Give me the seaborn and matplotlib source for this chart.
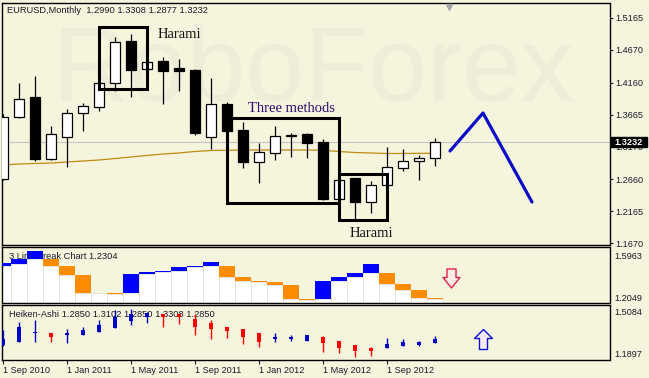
import numpy as np
import pandas as pd
import matplotlib
matplotlib.use("Agg")
import matplotlib.pyplot as plt
import seaborn as sns
from matplotlib.path import Path
from matplotlib.patches import Rectangle
from matplotlib.transforms import blended_transform_factory

# ---------------- data ----------------
months = ["Sep 2010", "Oct 2010", "Nov 2010", "Dec 2010", "Jan 2011", "Feb 2011", "Mar 2011",
          "Apr 2011", "May 2011", "Jun 2011", "Jul 2011", "Aug 2011", "Sep 2011", "Oct 2011",
          "Nov 2011", "Dec 2011", "Jan 2012", "Feb 2012", "Mar 2012", "Apr 2012", "May 2012",
          "Jun 2012", "Jul 2012", "Aug 2012", "Sep 2012", "Oct 2012", "Nov 2012", "Dec 2012"]

opens  = [1.2664, 1.3622, 1.3942, 1.2970, 1.3321, 1.3684, 1.3787, 1.4150, 1.4807, 1.4368,
          1.4496, 1.4383, 1.4357, 1.3321, 1.3829, 1.3425, 1.2928, 1.3068, 1.3332, 1.3363,
          1.3238, 1.2353, 1.2680, 1.2307, 1.2571, 1.2835, 1.2944, 1.2990]
highs  = [1.3673, 1.4160, 1.4263, 1.3487, 1.3751, 1.3840, 1.4150, 1.4874, 1.4920, 1.4476,
          1.4563, 1.4528, 1.4372, 1.4232, 1.3860, 1.3549, 1.3223, 1.3487, 1.3378, 1.3378,
          1.3285, 1.2648, 1.2680, 1.2633, 1.3161, 1.3130, 1.3037, 1.3301]
lows   = [1.2648, 1.3607, 1.2943, 1.2965, 1.2855, 1.3414, 1.3725, 1.4035, 1.3942, 1.4368,
          1.3824, 1.4035, 1.3347, 1.3130, 1.3409, 1.2835, 1.2602, 1.2959, 1.3000, 1.2990,
          1.2338, 1.2353, 1.2043, 1.2136, 1.2571, 1.2788, 1.2648, 1.2866]
closes = [1.3627, 1.3902, 1.2970, 1.3358, 1.3684, 1.3798, 1.4150, 1.4792, 1.4357, 1.4476,
          1.4346, 1.4346, 1.3383, 1.3824, 1.3409, 1.2928, 1.3083, 1.3332, 1.3340, 1.3223,
          1.2353, 1.2648, 1.2307, 1.2571, 1.2850, 1.2944, 1.2990, 1.3232]
ma_values = [1.2881, 1.2897, 1.2905, 1.2912, 1.2928, 1.2943, 1.2959, 1.2982, 1.3006, 1.3029,
             1.3052, 1.3068, 1.3091, 1.3107, 1.3110, 1.3114, 1.3114, 1.3114, 1.3114, 1.3114,
             1.3110, 1.3091, 1.3075, 1.3068, 1.3060, 1.3060, 1.3063, 1.3063]
current_price = 1.3232

forecast_x = [27.94, 30.0, 33.06]
forecast_y = [1.3099, 1.3689, 1.2307]

# pattern boxes: (label, x0, x1, low, high, label_x, label_y, color)
patterns = [("Harami", 6.0, 9.0, 1.4062, 1.5024, 11.03, 1.4908, "#111111"),
            ("Three methods", 14.0, 21.0, 1.2291, 1.3611, 18.03, 1.3751, "#2e0a6e"),
            ("Harami", 21.0, 24.0, 1.2027, 1.2742, 23.0, 1.1810, "#111111")]

main_ticks = [1.5165, 1.4670, 1.4160, 1.3665, 1.3170, 1.2660, 1.2165, 1.1670]

# 3 Line Break bricks
lb_open  = [1.4966, 1.5124, 1.5590, 1.5590, 1.4938, 1.4099, 1.2450, 1.2450, 1.2450, 1.4192,
            1.4379, 1.4472, 1.4845, 1.4966, 1.4966, 1.3913, 1.3540, 1.3447, 1.3167, 1.1863,
            1.1863, 1.3540, 1.3941, 1.4314, 1.4314, 1.3260, 1.2701, 1.1984]
lb_close = [1.5190, 1.5590, 1.6336, 1.4938, 1.4099, 1.2450, 1.2450, 1.2329, 1.4192, 1.4379,
            1.4472, 1.4845, 1.4966, 1.5311, 1.3913, 1.3540, 1.3447, 1.3167, 1.1863, 1.1769,
            1.3540, 1.3941, 1.4314, 1.5124, 1.3260, 1.2701, 1.1984, 1.1891]
lb_ticks = [1.5963, 1.2049]

# Heiken-Ashi
ha_open  = [1.2564, 1.2786, 1.3454, 1.3454, 1.3305, 1.3328, 1.3550, 1.3846, 1.4321, 1.4639,
            1.4862, 1.4862, 1.4491, 1.4217, 1.3876, 1.3728, 1.3454, 1.3009, 1.3031, 1.2883,
            1.3179, 1.2861, 1.2564, 1.2342, 1.2319, 1.2468, 1.2564, 1.2690]
ha_close = [1.3009, 1.3898, 1.3528, 1.3135, 1.3431, 1.3676, 1.4046, 1.4662, 1.4862, 1.4936,
            1.4617, 1.4617, 1.3920, 1.3728, 1.3624, 1.3135, 1.2809, 1.3179, 1.3179, 1.3328,
            1.2690, 1.2319, 1.2142, 1.2119, 1.2616, 1.2809, 1.2764, 1.3009]
ha_high  = [1.3676, 1.4269, 1.4417, 1.3454, 1.3750, 1.3898, 1.4417, 1.5158, 1.5232, 1.5032,
            1.4862, 1.4862, 1.4862, 1.4417, 1.3876, 1.3728, 1.3454, 1.3476, 1.3328, 1.3328,
            1.3231, 1.2861, 1.2564, 1.2394, 1.3105, 1.3009, 1.2883, 1.3253]
ha_low   = [1.2490, 1.2786, 1.2786, 1.2786, 1.2712, 1.3328, 1.3550, 1.3846, 1.4069, 1.4217,
            1.3920, 1.4121, 1.3305, 1.3009, 1.3105, 1.2638, 1.2438, 1.2764, 1.2883, 1.2883,
            1.2067, 1.1993, 1.1697, 1.1771, 1.2319, 1.2468, 1.2468, 1.2690]
ha_ticks = [1.5084, 1.1897]

date_tick_idx = [0, 4, 8, 12, 16, 20, 24]

title_main = "EURUSD,Monthly  1.2990 1.3308 1.2877 1.3232"
title_lb = "3 Line Break Chart 1.2304"
title_ha = "Heiken-Ashi 1.2850 1.3102 1.2850 1.3308 1.2850"

# ---------------- style ----------------
sns.set_style("white")
plt.rcParams["font.family"] = ["Liberation Sans", "DejaVu Sans"]
BG = "#F5F5DE"
TXT = "#1a1a2a"

W, H = 649, 378
fig = plt.figure(figsize=(W / 100, H / 100), dpi=100)
fig.patch.set_facecolor(BG)


def rect(x0, y0, x1, y1):
    return [x0 / W, 1 - y1 / H, (x1 - x0) / W, (y1 - y0) / H]


ax1 = fig.add_axes(rect(2, 3, 609.5, 245))
ax2 = fig.add_axes(rect(2, 247.3, 609.5, 302.7))
ax3 = fig.add_axes(rect(2, 305.3, 609.5, 360))

x = np.arange(len(months))
xlim = (-0.0625, 37.906)

for ax in (ax1, ax2, ax3):
    ax.set_facecolor(BG)
    ax.set_xlim(*xlim)
    for s in ax.spines.values():
        s.set_color("black")
        s.set_linewidth(1.0)
        s.set_visible(True)
    ax.yaxis.tick_right()

# ---------------- main panel ----------------
ax1.set_ylim(1.1639, 1.5397)
ax1.text(0.512, 0.595, "RoboForex", transform=ax1.transAxes, ha="center", va="baseline",
         fontsize=76, color="#EDEDD9", zorder=0)
ax1.axhline(current_price, color="#C4C4C4", lw=0.8, zorder=1)
sns.lineplot(x=x, y=ma_values, ax=ax1, color="#C08A10", lw=0.9, zorder=2)

o = np.array(opens); c = np.array(closes)
ax1.vlines(x, lows, highs, color="black", lw=0.9, zorder=3)
body_bottom = np.minimum(o, c)
body_h = np.maximum(np.abs(c - o), 0.0004)
fill = ["white" if cc >= oo else "black" for oo, cc in zip(o, c)]
ax1.bar(x, body_h, bottom=body_bottom, width=0.64, color=fill, edgecolor="black",
        linewidth=0.9, zorder=4)

for label, x0, x1, lo, hi, lx, ly, col in patterns:
    ax1.add_patch(Rectangle((x0, lo), x1 - x0, hi - lo, fill=False, edgecolor="black",
                            linewidth=2.2, zorder=5))
    ax1.text(lx, ly, label, ha="center", va="center", fontsize=10.5, color=col,
             family=["Liberation Serif", "DejaVu Serif"], zorder=6)

sns.lineplot(x=forecast_x, y=forecast_y, ax=ax1, color="#0A0AC8", lw=2.3, zorder=6)

ax1.set_yticks(main_ticks)
ax1.set_yticklabels([f"{t:.4f}" for t in main_ticks])
ax1.tick_params(axis="y", direction="out", length=2.5, width=0.8, pad=2, labelsize=6.6,
                colors=TXT, right=True, left=False)
ax1.set_xticks([])
ax1.set_xlabel(""); ax1.set_ylabel("")

# current price label
tr = blended_transform_factory(fig.transFigure, ax1.transData)
ax1.add_patch(Rectangle((611 / W, current_price - 0.0078), 36 / W, 0.0156, transform=tr,
                        facecolor="black", edgecolor="black", clip_on=False, zorder=10))
ax1.text(629 / W, current_price, f"{current_price:.4f}", transform=tr, ha="center",
         va="center", color="white", fontsize=6.6, fontweight="bold", clip_on=False, zorder=11)

# chart shift marker
ax1.plot([27.875], [0.985], marker="v", color="#A8A8A8", ms=5,
         transform=blended_transform_factory(ax1.transData, ax1.transAxes), zorder=7)

fig.text(7 / W, 1 - 10.5 / H, title_main, ha="left", va="center", fontsize=6.7, color=TXT)

# ---------------- 3 line break panel ----------------
lb_lo_lim, lb_hi_lim = 1.1518, 1.6681
ax2.set_ylim(lb_lo_lim, lb_hi_lim)
ax2.text(7 / 607.5, 0.83, title_lb, transform=ax2.transAxes, ha="left", va="center",
         fontsize=6.7, color=TXT, zorder=1)
lo_b = np.minimum(lb_open, lb_close)
hi_b = np.maximum(lb_open, lb_close)
ax2.bar(x, lo_b - lb_lo_lim, bottom=lb_lo_lim, width=1.0, color="white",
        edgecolor="#E4E4DA", linewidth=0.7, zorder=2)
lb_cols = ["#0000FF" if cc > oo else "#FF8C00" for oo, cc in zip(lb_open, lb_close)]
ax2.bar(x, hi_b - lo_b, bottom=lo_b, width=1.0, color=lb_cols, linewidth=0, zorder=3)

down_arrow = Path([(-4.5, 9.5), (4.5, 9.5), (4.5, 1.0), (8.5, 1.0), (0, -9.5), (-8.5, 1.0),
                   (-4.5, 1.0), (-4.5, 9.5)],
                  [Path.MOVETO] + [Path.LINETO] * 6 + [Path.CLOSEPOLY])
ax2.plot([27.97], [1.3792], marker=down_arrow, ms=13.7, mfc="#F8ECE4", mec="#E0204A",
         mew=1.0, ls="none", zorder=5)

ax2.set_yticks(lb_ticks)
ax2.set_yticklabels([f"{t:.4f}" for t in lb_ticks])
ax2.tick_params(axis="y", length=0, pad=3.5, labelsize=6.6, colors=TXT)
ax2.set_xticks([])

# ---------------- Heiken-Ashi panel ----------------
ax3.set_ylim(1.1452, 1.5507)
ax3.text(7 / 607.5, 0.84, title_ha, transform=ax3.transAxes, ha="left", va="center",
         fontsize=6.7, color=TXT, zorder=1)
ha_cols = ["#0000CD" if cc >= oo else "#FF0000" for oo, cc in zip(ha_open, ha_close)]
ax3.vlines(x, ha_low, ha_high, colors=ha_cols, lw=1.0, zorder=3)
hb = np.minimum(ha_open, ha_close)
hh = np.maximum(np.abs(np.array(ha_close) - np.array(ha_open)), 0.004)
ax3.bar(x, hh, bottom=hb, width=0.3, color=ha_cols, linewidth=0, zorder=4)

up_arrow = Path([(-4.0, -10), (4.0, -10), (4.0, 1.0), (9.0, 1.0), (0, 10), (-9.0, 1.0),
                 (-4.0, 1.0), (-4.0, -10)],
                [Path.MOVETO] + [Path.LINETO] * 6 + [Path.CLOSEPOLY])
ax3.plot([30.0], [1.3009], marker=up_arrow, ms=14.4, mfc="#F4ECF2", mec="#1010D0",
         mew=1.0, ls="none", zorder=5)

ax3.set_yticks(ha_ticks)
ax3.set_yticklabels([f"{t:.4f}" for t in ha_ticks])
ax3.tick_params(axis="y", length=0, pad=3.5, labelsize=6.6, colors=TXT)
ax3.set_xticks(date_tick_idx)
ax3.set_xticklabels(["1 " + months[i] for i in date_tick_idx])
ax3.tick_params(axis="x", direction="out", length=3, width=0.8, pad=1.5, labelsize=6.6,
                colors=TXT, bottom=True)
for lbl in ax3.get_xticklabels():
    lbl.set_horizontalalignment("left")
ax3.set_xlabel(""); ax3.set_ylabel("")

fig.savefig("out.png", dpi=100, facecolor=BG)
